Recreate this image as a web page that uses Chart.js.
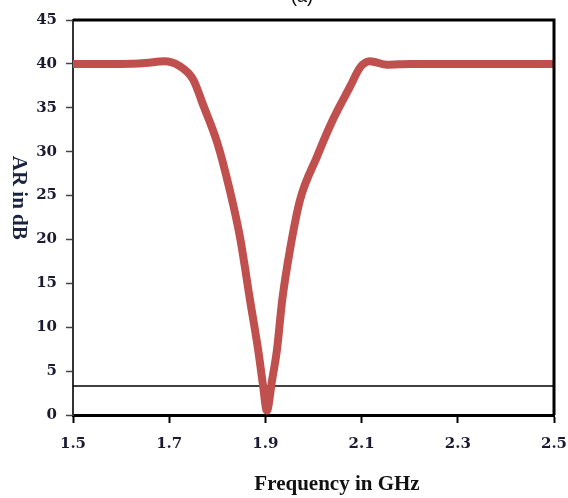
<!DOCTYPE html>
<html>
<head>
<meta charset="utf-8">
<script src="https://cdn.jsdelivr.net/npm/chart.js@4"></script>
<style>
    html, body { margin: 0; padding: 0; background: #fff; overflow: hidden; }
    #wrap { position: relative; width: 568px; height: 512px; margin-top: -14px; }
</style>
</head>
<body>
<div id="wrap"><canvas id="ar_chart" width="568" height="512"></canvas></div>
<script>
// values
const freq = [1.50, 1.55, 1.60, 1.65, 1.69, 1.72, 1.75, 1.77, 1.80, 1.826, 1.847, 1.868, 1.885, 1.895, 1.903,
    1.914, 1.924, 1.935, 1.951, 1.972, 2.007, 2.04, 2.076, 2.097, 2.117, 2.153, 2.2, 2.3, 2.4, 2.5];
const ar_db = [40.0, 40.0, 40.0, 40.1, 40.3, 39.8, 38.2, 35.4, 31.0, 25.6, 20.3, 13.1, 7.4, 3.4, 0.5,
    4.0, 7.4, 13.1, 18.8, 24.5, 29.4, 33.6, 37.4, 39.6, 40.3, 39.9, 40.0, 40.0, 40.0, 40.0];
const ref_freq = [1.5, 2.5];
const ref_db = [3.3, 3.3];
const x_ticks = [1.5, 1.7, 1.9, 2.1, 2.3, 2.5];
const y_ticks = [0, 5, 10, 15, 20, 25, 30, 35, 40, 45];

const tickFont = { family: "'DejaVu Serif', serif", size: 15, weight: 'bold' };
const tickColor = '#1a1a33';

function toPoints(xs, ys) {
    return xs.map((x, i) => ({ x: x, y: ys[i] }));
}

// top / right frame, the cut-off panel label and the two axis titles
const framePlugin = {
    id: 'frame',
    afterDraw(chart) {
        const { ctx, chartArea: a } = chart;
        ctx.save();
        ctx.strokeStyle = '#000';
        ctx.lineWidth = 3;
        ctx.beginPath();
        ctx.moveTo(a.left, a.top);
        ctx.lineTo(a.right, a.top);
        ctx.lineTo(a.right, a.bottom);
        ctx.stroke();

        ctx.textAlign = 'center';
        ctx.textBaseline = 'middle';
        ctx.fillStyle = '#000';
        ctx.font = "18px 'Liberation Sans', sans-serif";
        ctx.fillText('(a)', 302, 10.8);

        ctx.font = "bold 21px 'Liberation Serif', serif";
        ctx.fillStyle = '#111';
        ctx.fillText('Frequency in GHz', 337, a.bottom + 70);

        ctx.translate(18, a.top + (a.bottom - a.top) * 0.45);
        ctx.rotate(Math.PI / 2);
        ctx.fillStyle = '#1a2340';
        ctx.fillText('AR in dB', 0, 0);
        ctx.restore();
    }
};

const chart = new Chart(document.getElementById('ar_chart'), {
    type: 'line',
    data: {
        datasets: [{
            data: toPoints(freq, ar_db),
            borderColor: '#C0504D',
            borderWidth: 8,
            pointRadius: 0,
            cubicInterpolationMode: 'monotone',
            borderCapStyle: 'round',
            borderJoinStyle: 'round'
        }, {
            data: toPoints(ref_freq, ref_db),
            borderColor: '#000',
            borderWidth: 1.5,
            pointRadius: 0
        }]
    },
    options: {
        responsive: false,
        animation: false,
        layout: { padding: { left: 0, right: 14, top: 34, bottom: 0 } },
        plugins: {
            legend: { display: false },
            tooltip: { enabled: false }
        },
        scales: {
            x: {
                type: 'linear',
                min: 1.5,
                max: 2.5,
                afterBuildTicks: s => { s.ticks = x_ticks.map(v => ({ value: v })); },
                afterFit: s => { s.height = 83; s.paddingLeft = 0; s.paddingRight = 0; },
                ticks: {
                    font: tickFont,
                    color: tickColor,
                    padding: 12,
                    maxRotation: 0,
                    callback: v => v.toFixed(1)
                },
                grid: { drawOnChartArea: false, tickLength: 8, color: '#000', tickWidth: 2 },
                border: { color: '#000', width: 3 }
            },
            y: {
                min: 0,
                max: 45,
                afterBuildTicks: s => { s.ticks = y_ticks.map(v => ({ value: v })); },
                afterFit: s => { s.width = 73; s.paddingTop = 0; s.paddingBottom = 0; },
                ticks: { font: tickFont, color: tickColor, padding: 9 },
                grid: { drawOnChartArea: false, tickLength: 7, color: '#444', tickWidth: 1.5 },
                border: { color: '#333', width: 2 }
            }
        }
    },
    plugins: [framePlugin]
});
</script>
</body>
</html>
